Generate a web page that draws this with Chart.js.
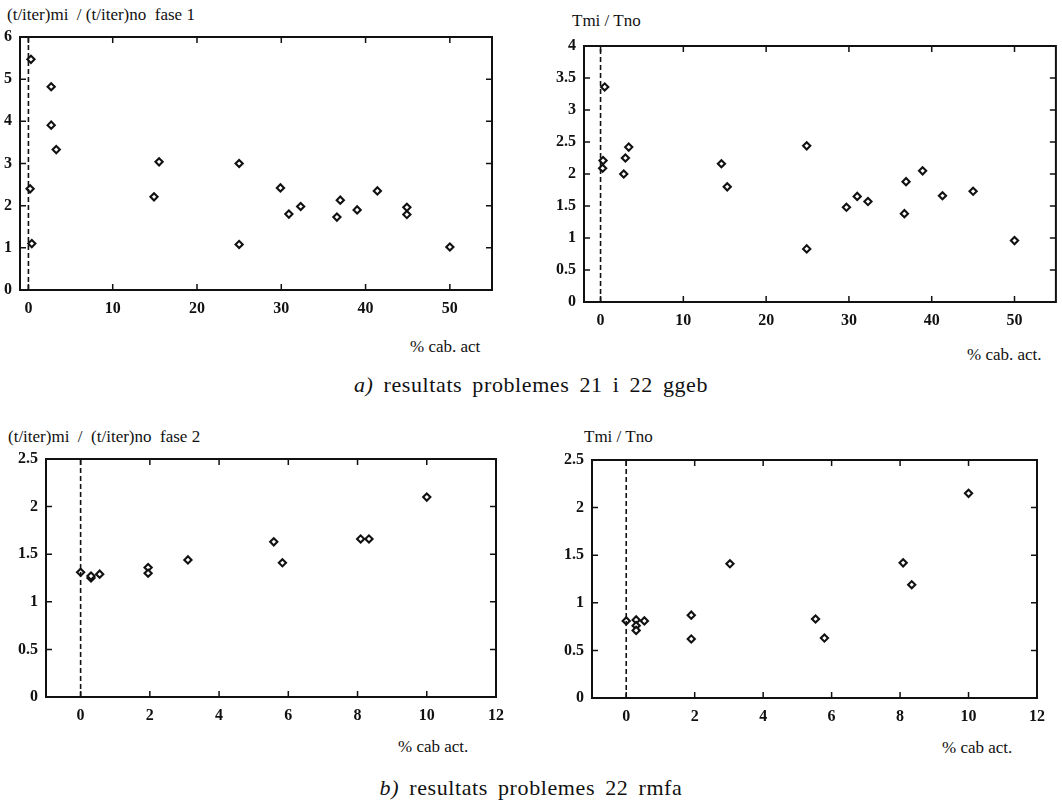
<html>
  <head>
    <meta charset="utf-8" />
    <title>resultats problemes</title>
    <style>
      body {
        margin: 0;
        background: #fff;
        width: 1062px;
        height: 804px;
        overflow: hidden;
        position: relative;
        font-family: "Liberation Serif", serif;
        color: #111;
      }
      .panel { position: absolute; }
      .lbl {
        position: absolute;
        font-size: 17px;
        line-height: 20px;
        white-space: pre;
      }
      .cap {
        position: absolute;
        left: 0;
        width: 1062px;
        text-align: center;
        font-size: 22px;
        line-height: 26px;
        letter-spacing: 0.6px;
        word-spacing: 4px;
      }
      .cap i { font-style: italic; }
    </style>
    <script src="https://cdn.jsdelivr.net/npm/chart.js"></script>
  </head>
  <body>
    <div class="panel" id="boxA1"><canvas id="chartA1"></canvas></div>
    <div class="panel" id="boxA2"><canvas id="chartA2"></canvas></div>
    <div class="panel" id="boxB1"><canvas id="chartB1"></canvas></div>
    <div class="panel" id="boxB2"><canvas id="chartB2"></canvas></div>

    <div class="lbl" style="left:7px; top:5px">(t/iter)mi  / (t/iter)no  fase 1</div>
    <div class="lbl" style="left:572px; top:11px">Tmi / Tno</div>
    <div class="lbl" style="left:8px; top:427px">(t/iter)mi  /  (t/iter)no  fase 2</div>
    <div class="lbl" style="left:584px; top:427px">Tmi / Tno</div>

    <div class="lbl" style="left:410px; top:337px">% cab. act</div>
    <div class="lbl" style="left:967px; top:345px">% cab. act.</div>
    <div class="lbl" style="left:398px; top:737px">% cab act.</div>
    <div class="lbl" style="left:942px; top:738px">% cab act.</div>

    <div class="cap" style="top:372px"><i>a)</i> resultats problemes 21 i 22 ggeb</div>
    <div class="cap" style="top:775px"><i>b)</i> resultats problemes 22 rmfa</div>

    <script>
      // (a) fase 1 : (t/iter)mi / (t/iter)no  vs  % cab. act
      const a1X = [0.3, 2.7, 2.7, 3.3, 0.2, 0.4, 15.5, 14.9, 25, 25, 29.9, 30.9, 32.3, 36.6, 37.0, 39.0, 41.4, 44.9, 44.9, 50.0];
      const a1Y = [5.47, 4.82, 3.91, 3.33, 2.40, 1.10, 3.04, 2.21, 3.00, 1.08, 2.42, 1.80, 1.98, 1.73, 2.13, 1.90, 2.35, 1.96, 1.79, 1.02];

      // (a) Tmi / Tno
      const a2X = [0.5, 0.3, 0.25, 3.0, 3.4, 2.8, 14.6, 15.3, 24.9, 24.9, 29.7, 31.0, 32.3, 36.7, 36.9, 38.9, 41.3, 45.0, 50.0];
      const a2Y = [3.36, 2.21, 2.09, 2.25, 2.42, 2.00, 2.16, 1.80, 2.44, 0.83, 1.48, 1.65, 1.57, 1.38, 1.88, 2.05, 1.66, 1.73, 0.96];

      // (b) fase 2
      const b1X = [0, 0.3, 0.3, 0.55, 1.95, 1.95, 3.1, 5.58, 5.83, 8.09, 8.33, 10.0];
      const b1Y = [1.31, 1.25, 1.27, 1.29, 1.36, 1.30, 1.44, 1.63, 1.41, 1.66, 1.66, 2.10];

      // (b) Tmi / Tno
      const b2X = [0, 0.29, 0.29, 0.29, 0.53, 1.9, 1.9, 3.03, 5.53, 5.79, 8.09, 8.34, 10.0];
      const b2Y = [0.81, 0.82, 0.76, 0.71, 0.81, 0.87, 0.62, 1.41, 0.83, 0.63, 1.42, 1.19, 2.15];

      // tick labels
      const xTicksA = [0, 10, 20, 30, 40, 50];
      const xTicksB = [0, 2, 4, 6, 8, 10, 12];
      const yTicksA1 = [0, 1, 2, 3, 4, 5, 6];
      const yTicksA2 = [0, 0.5, 1, 1.5, 2, 2.5, 3, 3.5, 4];
      const yTicksB = [0, 0.5, 1, 1.5, 2, 2.5];

      // axis ranges [min, max]
      const xRangeA1 = [-1, 55];
      const xRangeA2 = [-2, 55];
      const xRangeB = [-1, 12];

      const toPoints = (xs, ys) => xs.map((x, i) => ({ x: x, y: ys[i] }));

      // frame round the plot area with small inward ticks on all four sides
      const framePlugin = {
        id: "frame",
        afterDraw(chart) {
          const ctx = chart.ctx;
          const a = chart.chartArea;
          const xs = chart.scales.x;
          const ys = chart.scales.y;
          ctx.save();
          ctx.strokeStyle = "#111";
          ctx.lineWidth = 2;
          ctx.strokeRect(a.left, a.top, a.right - a.left, a.bottom - a.top);
          ctx.lineWidth = 1.5;
          ctx.beginPath();
          xs.ticks.forEach((t) => {
            const px = xs.getPixelForValue(t.value);
            if (px <= a.left + 1 || px >= a.right - 1) return;
            ctx.moveTo(px, a.bottom);
            ctx.lineTo(px, a.bottom - 6);
            ctx.moveTo(px, a.top);
            ctx.lineTo(px, a.top + 6);
          });
          ys.ticks.forEach((t) => {
            const py = ys.getPixelForValue(t.value);
            if (py <= a.top + 1 || py >= a.bottom - 1) return;
            ctx.moveTo(a.left, py);
            ctx.lineTo(a.left + 6, py);
            ctx.moveTo(a.right, py);
            ctx.lineTo(a.right - 6, py);
          });
          ctx.stroke();
          ctx.restore();
        },
      };

      const tickFont = { family: "'Liberation Serif', serif", size: 16, weight: "bold" };

      function makeChart(id, box, pts, xRange, xTicks, yTicks) {
        const el = document.getElementById(id).parentNode;
        el.style.left = box.left + "px";
        el.style.top = box.top + "px";
        el.style.width = box.width + "px";
        el.style.height = box.height + "px";

        const yMax = yTicks[yTicks.length - 1];
        return new Chart(document.getElementById(id), {
          type: "scatter",
          data: {
            datasets: [
              {
                type: "line",
                data: [{ x: 0, y: 0 }, { x: 0, y: yMax }],
                borderColor: "#111",
                borderWidth: 1.6,
                borderDash: [5, 3],
                pointRadius: 0,
                fill: false,
              },
              {
                data: pts,
                pointStyle: "rectRot",
                pointRadius: 3.6,
                borderWidth: 2.1,
                borderColor: "#111",
                backgroundColor: "#fff",
              },
            ],
          },
          options: {
            responsive: true,
            maintainAspectRatio: false,
            animation: false,
            events: [],
            layout: { padding: { left: 0, top: box.pt, right: box.pr, bottom: 0 } },
            plugins: { legend: { display: false }, tooltip: { enabled: false } },
            scales: {
              x: {
                type: "linear",
                min: xRange[0],
                max: xRange[1],
                grid: { display: false, drawTicks: false },
                border: { display: false },
                afterBuildTicks: (s) => { s.ticks = xTicks.map((v) => ({ value: v })); },
                afterFit: (s) => {
                  s.height = box.xh;
                  s.paddingLeft = 0;
                  s.paddingRight = 0;
                },
                ticks: {
                  padding: 9,
                  maxRotation: 0,
                  autoSkip: false,
                  color: "#111",
                  font: tickFont,
                  callback: (v) => String(v),
                },
              },
              y: {
                type: "linear",
                min: 0,
                max: yMax,
                grid: { display: false, drawTicks: false },
                border: { display: false },
                afterBuildTicks: (s) => { s.ticks = yTicks.map((v) => ({ value: v })); },
                afterFit: (s) => {
                  s.width = box.yw;
                  s.paddingTop = 0;
                  s.paddingBottom = 0;
                },
                ticks: {
                  padding: 8,
                  autoSkip: false,
                  color: "#111",
                  font: tickFont,
                  callback: (v) => String(v),
                },
              },
            },
          },
          plugins: [framePlugin],
        });
      }

      // place each plot so its frame lands where it sits in the figure
      function boxFor(L, T, R, B, pr) {
        const yw = 40, pt = 10, xh = 35;
        return { left: L - yw, top: T - pt, width: R - L + yw + pr, height: B - T + pt + xh, yw: yw, pt: pt, pr: pr, xh: xh };
      }

      makeChart("chartA1", boxFor(20, 37, 492, 290, 15), toPoints(a1X, a1Y), xRangeA1, xTicksA, yTicksA1);
      makeChart("chartA2", boxFor(584, 46, 1060, 302, 2), toPoints(a2X, a2Y), xRangeA2, xTicksA, yTicksA2);
      makeChart("chartB1", boxFor(46, 459, 496, 697, 15), toPoints(b1X, b1Y), xRangeB, xTicksB, yTicksB);
      makeChart("chartB2", boxFor(592, 460, 1037, 698, 15), toPoints(b2X, b2Y), xRangeB, xTicksB, yTicksB);
    </script>
  </body>
</html>
